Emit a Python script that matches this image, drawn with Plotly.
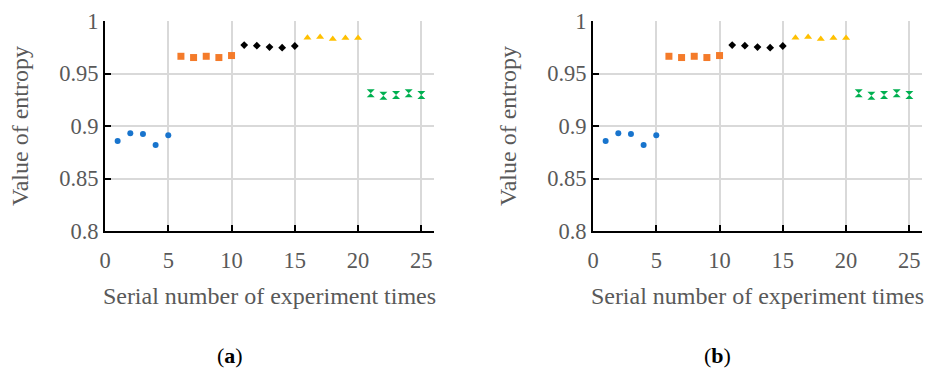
import plotly.graph_objects as go

# ---- data ----
x_blue = [1, 2, 3, 4, 5]
y_blue = [0.8856, 0.8931, 0.8925, 0.8819, 0.8912]
x_orange = [6, 7, 8, 9, 10]
y_orange = [0.9664, 0.9652, 0.9664, 0.9652, 0.9671]
x_black = [11, 12, 13, 14, 15]
y_black = [0.9771, 0.9765, 0.9752, 0.9746, 0.9762]
x_yellow = [16, 17, 18, 19, 20]
y_yellow = [0.9841, 0.9847, 0.9829, 0.9838, 0.9838]
x_green = [21, 22, 23, 24, 25]
y_green = [0.9313, 0.9288, 0.9295, 0.9313, 0.9295]

panel_labels = ["a", "b"]
x_ticks = [0, 5, 10, 15, 20, 25]
y_ticks = [0.8, 0.85, 0.9, 0.95, 1]
y_ticktext = ["0.8", "0.85", "0.9", "0.95", "1"]

series = [
    (x_blue, y_blue, "#1874CD", "circle", 6),
    (x_orange, y_orange, "#F47B2A", "square", 7),
    (x_black, y_black, "#000000", "diamond", 6),
    (x_yellow, y_yellow, "#FFC000", "triangle-up", 7),
    (x_green, y_green, "#00B050", "hourglass", 8),
]

W, H = 925, 374
FONT = "Liberation Serif, Times New Roman, serif"
GRAY = "#595959"

fig = go.Figure()

domains_px = [(105, 434), (593, 922)]
ytop, ybot = 21, 231

for i, (x0, x1) in enumerate(domains_px):
    xa = "x" if i == 0 else "x2"
    ya = "y" if i == 0 else "y2"
    for xs, ys, col, sym, sz in series:
        fig.add_trace(go.Scatter(
            x=xs, y=ys, mode="markers", xaxis=xa, yaxis=ya,
            marker=dict(color=col, symbol=sym, size=sz, line=dict(width=0)),
            showlegend=False))
    axis_common = dict(
        showline=True, linecolor="black", linewidth=2,
        ticks="inside", ticklen=6, tickwidth=2, tickcolor="black",
        showgrid=True, gridcolor="#D9D9D9", gridwidth=2,
        zeroline=False, automargin=False,
        tickfont=dict(family=FONT, size=22.5, color=GRAY),
    )
    xkey = "xaxis" if i == 0 else "xaxis2"
    ykey = "yaxis" if i == 0 else "yaxis2"
    fig.update_layout({
        xkey: dict(axis_common,
                   domain=[x0 / W, x1 / W], range=[0, 26],
                   tickmode="array", tickvals=x_ticks,
                   anchor=ya, ticklabelstandoff=8,
                   title=dict(text="Serial number of experiment times",
                              font=dict(family=FONT, size=24, color=GRAY),
                              standoff=15)),
        ykey: dict(axis_common,
                   domain=[1 - ybot / H, 1 - ytop / H], range=[0.8, 1.0],
                   tickmode="array", tickvals=y_ticks, ticktext=y_ticktext,
                   anchor=xa,
                   title=dict(text="Value of entropy",
                              font=dict(family=FONT, size=24, color=GRAY),
                              standoff=24)),
    })
    fig.add_annotation(
        x=(x0 + x1) / 2 / W - 0.043, y=1 - 355 / H, xref="paper", yref="paper",
        text="(<b>%s</b>)" % panel_labels[i], showarrow=False,
        font=dict(family=FONT, size=22, color="black"),
        xanchor="center", yanchor="middle")

fig.update_layout(
    width=W, height=H,
    margin=dict(l=0, r=0, t=0, b=0),
    plot_bgcolor="white", paper_bgcolor="white",
)

fig.write_html("out.html", post_script="document.body.style.margin='0';",
               config={"displayModeBar": False})
